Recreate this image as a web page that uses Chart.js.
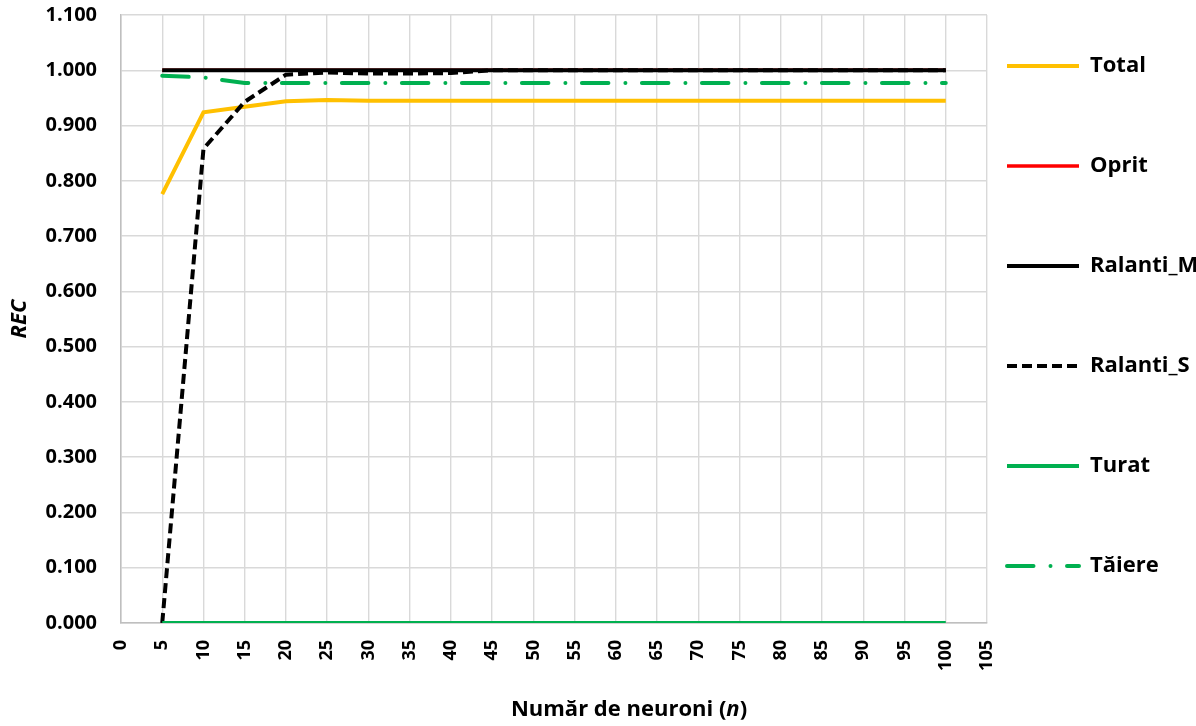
<!DOCTYPE html>
<html>
<head>
<meta charset="utf-8">
<title>REC vs număr de neuroni</title>
<script src="https://cdn.jsdelivr.net/npm/chart.js@4/dist/chart.umd.min.js"></script>
<style>
  html, body { margin: 0; padding: 0; background: #ffffff; }
  #wrap { width: 1196px; height: 726px; }
</style>
</head>
<body>
<div id="wrap"><canvas id="chart" width="1196" height="726"></canvas></div>
<script>
// Number of neurons in the hidden layer
const neurons = [5, 10, 15, 20, 25, 30, 35, 40, 45, 50, 55, 60, 65, 70, 75, 80, 85, 90, 95, 100];

// Recall (REC) per class
const total     = [0.776, 0.924, 0.934, 0.944, 0.946, 0.945, 0.945, 0.945, 0.945, 0.945, 0.945, 0.945, 0.945, 0.945, 0.945, 0.945, 0.945, 0.945, 0.945, 0.945];
const oprit     = [1.000, 1.000, 1.000, 1.000, 1.000, 1.000, 1.000, 1.000, 1.000, 1.000, 1.000, 1.000, 1.000, 1.000, 1.000, 1.000, 1.000, 1.000, 1.000, 1.000];
const ralantiM  = [1.000, 1.000, 1.000, 1.000, 1.000, 1.000, 1.000, 1.000, 1.000, 1.000, 1.000, 1.000, 1.000, 1.000, 1.000, 1.000, 1.000, 1.000, 1.000, 1.000];
const ralantiS  = [0.000, 0.858, 0.943, 0.992, 0.996, 0.994, 0.994, 0.995, 1.000, 1.000, 1.000, 1.000, 1.000, 1.000, 1.000, 1.000, 1.000, 1.000, 1.000, 1.000];
const turat     = [0.000, 0.000, 0.000, 0.000, 0.000, 0.000, 0.000, 0.000, 0.000, 0.000, 0.000, 0.000, 0.000, 0.000, 0.000, 0.000, 0.000, 0.000, 0.000, 0.000];
const taiere    = [0.990, 0.987, 0.977, 0.977, 0.977, 0.977, 0.977, 0.977, 0.977, 0.977, 0.977, 0.977, 0.977, 0.977, 0.977, 0.977, 0.977, 0.977, 0.977, 0.977];

// Axis ranges and tick steps
const xRange = [0, 105];
const xStep = 5;
const yRange = [0, 1.1];
const yStep = 0.1;

const FONT = "'Open Sans', 'DejaVu Sans', sans-serif";
Chart.defaults.font.family = FONT;
Chart.defaults.color = '#000000';

function series(label, values, color, order, extra) {
  return Object.assign({
    label,
    data: neurons.map((n, i) => ({ x: n, y: values[i] })),
    borderColor: color,
    backgroundColor: color,
    borderWidth: 4,
    borderDash: [],
    borderCapStyle: 'butt',
    pointRadius: 0,
    pointHoverRadius: 0,
    tension: 0,
    fill: false,
    order
  }, extra || {});
}

// Puts the legend column at a fixed spot to the right of the plot
const legendPlacement = {
  id: 'legendPlacement',
  afterLayout(chart, args, opts) {
    const lg = chart.legend;
    if (!lg) return;
    const pad = lg.options.labels.padding;
    const fs = lg.options.labels.font.size;
    lg.left = opts.x - pad;
    lg.right = chart.width;
    lg.top = opts.y - fs / 2 - pad;
    lg.bottom = chart.height;
    lg.width = lg.right - lg.left;
    lg.height = lg.bottom - lg.top;
  }
};

// X axis caption with an italic symbol
const xCaption = {
  id: 'xCaption',
  afterDraw(chart, args, opts) {
    const ctx = chart.ctx;
    ctx.save();
    ctx.fillStyle = '#000000';
    ctx.textBaseline = 'middle';
    ctx.textAlign = 'left';
    const fontFor = p => (p.italic ? 'italic ' : '') + 'bold ' + opts.size + 'px ' + FONT;
    let width = 0;
    opts.parts.forEach(p => { ctx.font = fontFor(p); width += ctx.measureText(p.text).width; });
    let x = opts.x - width / 2;
    opts.parts.forEach(p => {
      ctx.font = fontFor(p);
      ctx.fillText(p.text, x, opts.y);
      x += ctx.measureText(p.text).width;
    });
    ctx.restore();
  }
};

// Legend samples take the dash pattern and cap of their line
function legendLabels(chart) {
  const items = Chart.defaults.plugins.legend.labels.generateLabels(chart);
  items.forEach(it => {
    const ds = chart.data.datasets[it.datasetIndex];
    it.lineDash = ds.borderDash || [];
    it.lineCap = ds.borderCapStyle || 'butt';
    it.lineWidth = ds.borderWidth;
    it.strokeStyle = ds.borderColor;
  });
  return items;
}

const gridStyle = { color: '#d9d9d9', lineWidth: 1.4, drawTicks: false };
const borderStyle = { color: '#bfbfbf', width: 1.5 };

new Chart(document.getElementById('chart'), {
  type: 'line',
  data: {
    datasets: [
      series('Total', total, '#FFC000', 6),
      series('Oprit', oprit, '#FF0000', 5, { borderWidth: 3.5 }),
      series('Ralanti_M', ralantiM, '#000000', 4),
      series('Ralanti_S', ralantiS, '#000000', 3, { borderDash: [10, 5] }),
      series('Turat', turat, '#00B050', 2),
      series('Tăiere', taiere, '#00B050', 1, { borderDash: [26.5, 17, 0.01, 16.5], borderCapStyle: 'round' })
    ]
  },
  options: {
    responsive: false,
    animation: false,
    events: [],
    layout: { padding: { top: 15, left: 0, right: 0, bottom: 0 } },
    scales: {
      x: {
        type: 'linear',
        min: xRange[0],
        max: xRange[1],
        ticks: {
          stepSize: xStep,
          autoSkip: false,
          minRotation: 90,
          maxRotation: 90,
          padding: 17,
          color: '#000000',
          font: { size: 18, weight: 'bold' }
        },
        grid: gridStyle,
        border: borderStyle,
        afterFit(scale) { scale.height = 103; }
      },
      y: {
        min: yRange[0],
        max: yRange[1],
        ticks: {
          stepSize: yStep,
          padding: 24,
          color: '#000000',
          font: { size: 20, weight: 'bold' },
          callback: v => Number(v).toFixed(3)
        },
        grid: gridStyle,
        border: borderStyle,
        title: {
          display: true,
          text: 'REC',
          color: '#000000',
          font: { size: 22, weight: 'bold', style: 'italic' },
          padding: { top: 7, bottom: 0 }
        },
        afterFit(scale) {
          scale.width = 121;
          scale.paddingTop = 0;
          scale.paddingBottom = 0;
        }
      }
    },
    plugins: {
      legend: {
        position: 'right',
        align: 'start',
        maxWidth: 209,
        labels: {
          usePointStyle: true,
          pointStyle: 'line',
          pointStyleWidth: 72,
          padding: 78,
          color: '#000000',
          font: { size: 22, weight: 'bold' },
          generateLabels: legendLabels,
          sort: (a, b) => a.datasetIndex - b.datasetIndex
        }
      },
      tooltip: { enabled: false },
      legendPlacement: { x: 1007, y: 66 },
      xCaption: {
        x: 629,
        y: 710,
        size: 22,
        parts: [
          { text: 'Număr de neuroni (', italic: false },
          { text: 'n', italic: true },
          { text: ')', italic: false }
        ]
      }
    }
  },
  plugins: [legendPlacement, xCaption]
});
</script>
</body>
</html>
